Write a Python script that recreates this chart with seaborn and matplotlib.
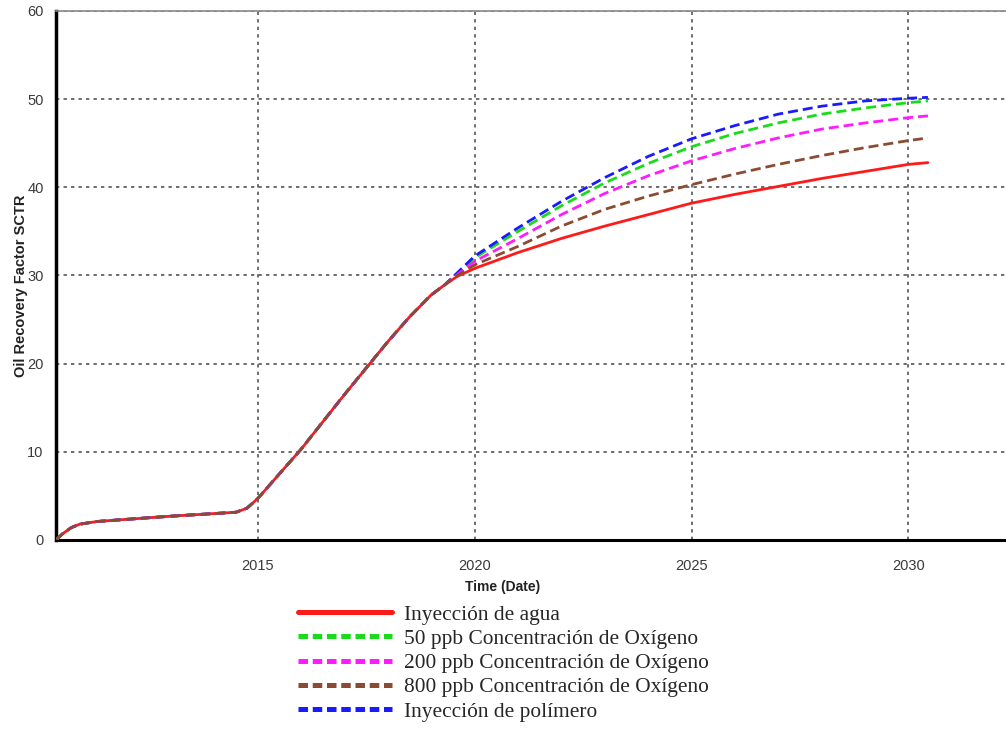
import numpy as np
import pandas as pd
import matplotlib
matplotlib.use("Agg")
import matplotlib.pyplot as plt
import seaborn as sns

# Shared history (all cases coincide)
common_t = [2010.35, 2010.5, 2010.7, 2010.9, 2011.3, 2012.0, 2013.0, 2014.0, 2014.5, 2014.75,
            2015.0, 2015.5, 2016.0, 2016.5, 2017.0, 2017.5, 2018.0, 2018.5, 2019.0, 2019.3]
common_v = [0.0, 0.7, 1.4, 1.8, 2.1, 2.35, 2.7, 3.0, 3.15, 3.6,
            4.7, 7.5, 10.3, 13.4, 16.5, 19.5, 22.5, 25.3, 27.8, 28.9]

fut_t = [2019.6, 2020.0, 2021.0, 2022.0, 2023.0, 2024.0, 2025.0, 2026.0, 2027.0, 2028.0, 2029.0, 2030.0, 2030.45]
agua = [29.9, 30.8, 32.6, 34.2, 35.6, 36.9, 38.2, 39.2, 40.1, 41.0, 41.8, 42.6, 42.8]
ppb50 = [30.2, 32.0, 35.0, 37.9, 40.5, 42.7, 44.6, 46.1, 47.3, 48.3, 49.0, 49.6, 49.8]
ppb200 = [30.1, 31.6, 34.2, 36.9, 39.3, 41.3, 43.0, 44.4, 45.6, 46.6, 47.3, 47.9, 48.1]
ppb800 = [30.0, 31.2, 33.3, 35.6, 37.5, 39.0, 40.3, 41.5, 42.6, 43.6, 44.5, 45.3, 45.6]
polimero = [30.3, 32.2, 35.4, 38.4, 41.1, 43.5, 45.5, 47.0, 48.3, 49.2, 49.8, 50.1, 50.2]

labels = ["Inyección de agua", "50 ppb Concentración de Oxígeno", "200 ppb Concentración de Oxígeno",
          "800 ppb Concentración de Oxígeno", "Inyección de polímero"]
colors = ["#ff1a1a", "#1adb1a", "#ff1aff", "#8b4a32", "#1a1aff"]
series = [agua, ppb50, ppb200, ppb800, polimero]

x_ticks = [2015, 2020, 2025, 2030]
y_ticks = [0, 10, 20, 30, 40, 50, 60]

sns.set_style("white")
plt.rcParams['font.family'] = ['Liberation Sans', 'DejaVu Sans']

fig = plt.figure(figsize=(10.06, 7.31), dpi=100)
ax = fig.add_axes([0.0557, 0.2613, 0.9443, 0.7237])

t_all = np.array(common_t + fut_t)
draw_order = [0, 1, 4, 2, 3]
handles = {}
for i in draw_order:
    v = np.array(common_v + series[i])
    df = pd.DataFrame({"t": t_all, "v": v})
    sns.lineplot(data=df, x="t", y="v", ax=ax, color=colors[i], lw=2.0, sort=False,
                 estimator=None, zorder=3 + draw_order.index(i))
    ln = ax.lines[-1]
    if i != 0:
        ln.set_dashes([3.6, 1.8])
    handles[i] = ln

ax.set_xlim(2010.35, 2032.25)
ax.set_ylim(0, 60)
ax.set_xticks(x_ticks)
ax.set_yticks(y_ticks)
ax.set_xticklabels([str(t) for t in x_ticks])
ax.set_yticklabels([str(t) for t in y_ticks])
ax.tick_params(axis='both', direction='out', length=6, width=2, color='black',
               labelsize=10.5, labelcolor='#3a3a3a', pad=3)
ax.tick_params(axis='x', pad=8)
ax.grid(True, color='#555555', lw=1.2, linestyle=(0, (2, 2.5)))
ax.set_axisbelow(True)

ax.spines['right'].set_visible(False)
ax.spines['top'].set_color('#888888')
ax.spines['top'].set_linewidth(1.2)
ax.spines['left'].set_color('black')
ax.spines['left'].set_linewidth(2.5)
ax.spines['bottom'].set_color('black')
ax.spines['bottom'].set_linewidth(2.2)

ax.set_xlabel("Time (Date)", fontsize=10, fontweight='bold', color='#222222')
ax.xaxis.set_label_coords(0.47, -0.076)
ax.set_ylabel("Oil Recovery Factor SCTR", fontsize=10.5, fontweight='bold', color='#222222')
ax.yaxis.set_label_coords(-0.03, 0.48)

leg_handles = []
for i in range(5):
    h = matplotlib.lines.Line2D([], [], color=colors[i], lw=3.6)
    if i != 0:
        h.set_dashes([1.9, 0.95])
    leg_handles.append(h)

leg = fig.legend(leg_handles, labels, loc='upper left',
                 bbox_to_anchor=(0.296, 0.173), frameon=False,
                 prop={'family': 'Liberation Serif', 'size': 15.4},
                 handlelength=4.4, handletextpad=0.55, labelspacing=0.2, borderaxespad=0,
                 borderpad=0)

fig.savefig("out.png", dpi=100)
